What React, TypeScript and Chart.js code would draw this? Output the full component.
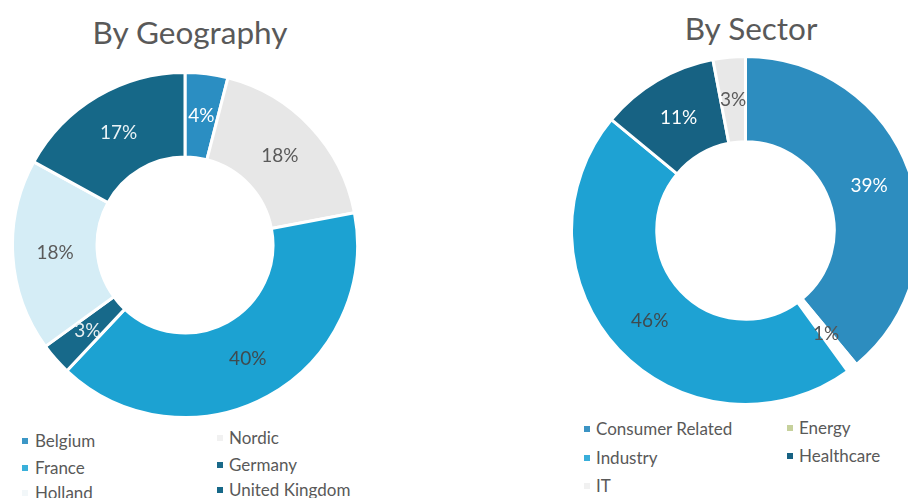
import React, { useEffect, useRef } from "react";
import { Chart, registerables } from "chart.js";

Chart.register(...registerables);

// ---- Data ----
const geoLabels = ["Belgium", "Nordic", "France", "Germany", "Holland", "United Kingdom"];
const geoValues = [4, 18, 40, 3, 18, 17];
const geoColors = ["#2B8EC2", "#E7E7E7", "#1CA2D2", "#17698A", "#D5EDF6", "#166888"];
const geoLegendColors = ["#3C97C6", "#F1F1F1", "#3AB0DA", "#1A6A8A", "#F2F7F9", "#166888"];
const geoLabelColors = ["#FFFFFF", "#5A5A5A", "#3F4A4E", "#E6EEF0", "#5A5A5A", "#EAF3F6"];

const secLabels = ["Consumer Related", "Energy", "Industry", "Healthcare", "IT"];
const secValues = [39, 1, 46, 11, 3];
const secColors = ["#2D8DBF", "#FFFFFF", "#1EA2D3", "#176283", "#E8E8E8"];
const secLegendColors = ["#3C94C4", "#C6D19C", "#39AEDA", "#176283", "#F1F1F1"];
const secLabelColors = ["#FFFFFF", "#555555", "#3F4A4E", "#FFFFFF", "#5A5A5A"];

const FONT = "Lato, 'Open Sans', sans-serif";
const TEXT = "#595959";

function makeLabelPlugin(colors: string[]) {
  return {
    id: "pctLabels",
    afterDatasetsDraw(chart: any) {
      const ctx = chart.ctx;
      const meta = chart.getDatasetMeta(0);
      const data = chart.data.datasets[0].data as number[];
      const total = data.reduce((a, b) => a + b, 0);
      ctx.save();
      ctx.font = `19px ${FONT}`;
      ctx.textAlign = "center";
      ctx.textBaseline = "middle";
      meta.data.forEach((arc: any, i: number) => {
        const p = arc.tooltipPosition();
        ctx.fillStyle = colors[i];
        ctx.fillText(Math.round((data[i] / total) * 100) + "%", p.x, p.y);
      });
      ctx.restore();
    },
  };
}

function Doughnut(props: {
  labels: string[];
  values: number[];
  colors: string[];
  labelColors: string[];
  left: number;
  top: number;
  size: number;
}) {
  const ref = useRef<HTMLCanvasElement>(null);
  useEffect(() => {
    if (!ref.current) return;
    const chart = new Chart(ref.current, {
      type: "doughnut",
      data: {
        labels: props.labels,
        datasets: [
          {
            data: props.values,
            backgroundColor: props.colors,
            borderColor: "#FFFFFF",
            borderWidth: 3,
          },
        ],
      },
      options: {
        animation: false,
        responsive: false,
        cutout: "51%",
        layout: { padding: 0 },
        plugins: {
          legend: { display: false },
          title: { display: false },
          tooltip: { enabled: false },
        },
      },
      plugins: [makeLabelPlugin(props.labelColors)],
    });
    return () => chart.destroy();
  }, []);
  return (
    <canvas
      ref={ref}
      width={props.size}
      height={props.size}
      style={{ position: "absolute", left: props.left, top: props.top, width: props.size, height: props.size }}
    />
  );
}

function LegendItem(props: { text: string; color: string; markerX: number; textX: number; cy: number }) {
  return (
    <>
      <div
        style={{
          position: "absolute",
          left: props.markerX,
          top: props.cy - 3,
          width: 6,
          height: 6,
          background: props.color,
        }}
      />
      <div
        style={{
          position: "absolute",
          left: props.textX,
          top: props.cy - 12,
          height: 24,
          lineHeight: "24px",
          fontFamily: FONT,
          fontSize: 17,
          color: TEXT,
          whiteSpace: "nowrap",
        }}
      >
        {props.text}
      </div>
    </>
  );
}

export default function App() {
  // legend layout: row-major, 2 columns
  const geoPos = [
    { mx: 22, tx: 35, cy: 441 },
    { mx: 217, tx: 229, cy: 438 },
    { mx: 22, tx: 35, cy: 468 },
    { mx: 217, tx: 229, cy: 465 },
    { mx: 22, tx: 35, cy: 493 },
    { mx: 217, tx: 229, cy: 490 },
  ];
  const secPos = [
    { mx: 584, tx: 596, cy: 429 },
    { mx: 787, tx: 799, cy: 428 },
    { mx: 584, tx: 596, cy: 458 },
    { mx: 787, tx: 799, cy: 456 },
    { mx: 584, tx: 596, cy: 486 },
  ];
  return (
    <div
      style={{
        position: "fixed",
        left: 0,
        top: 0,
        width: 908,
        height: 498,
        overflow: "hidden",
        background: "#FFFFFF",
      }}
    >
      <div
        style={{
          position: "absolute",
          left: 40,
          width: 300,
          top: 10,
          textAlign: "center",
          fontFamily: FONT,
          fontSize: 31.5,
          color: TEXT,
          lineHeight: "44px",
        }}
      >
        By Geography
      </div>
      <div
        style={{
          position: "absolute",
          left: 601,
          width: 300,
          top: 6,
          textAlign: "center",
          fontFamily: FONT,
          fontSize: 31.5,
          color: TEXT,
          lineHeight: "44px",
        }}
      >
        By Sector
      </div>
      <Doughnut
        labels={geoLabels}
        values={geoValues}
        colors={geoColors}
        labelColors={geoLabelColors}
        left={11}
        top={71}
        size={348}
      />
      <Doughnut
        labels={secLabels}
        values={secValues}
        colors={secColors}
        labelColors={secLabelColors}
        left={570}
        top={55}
        size={351}
      />
      {geoLabels.map((l, i) => (
        <LegendItem key={l} text={l} color={geoLegendColors[i]} markerX={geoPos[i].mx} textX={geoPos[i].tx} cy={geoPos[i].cy} />
      ))}
      {secLabels.map((l, i) => (
        <LegendItem key={l} text={l} color={secLegendColors[i]} markerX={secPos[i].mx} textX={secPos[i].tx} cy={secPos[i].cy} />
      ))}
    </div>
  );
}
